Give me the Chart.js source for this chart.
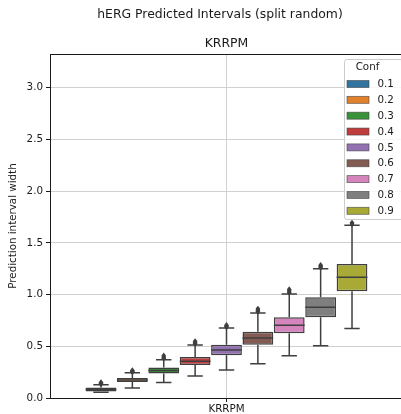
<!DOCTYPE html>
<html>
<head>
<meta charset="utf-8">
<title>hERG Predicted Intervals (split random)</title>
<script src="https://cdn.jsdelivr.net/npm/chart.js@4/dist/chart.umd.min.js"></script>
<style>
html, body { margin: 0; padding: 0; background: #fff; overflow: hidden; }
#wrap { width: 404px; height: 414px; position: relative; }
</style>
</head>
<body>
<div id="wrap"><canvas id="chart"></canvas></div>

<script>
// data
var categories = ['KRRPM'];
var confLevels = ['0.1', '0.2', '0.3', '0.4', '0.5', '0.6', '0.7', '0.8', '0.9'];
var whiskerLow  = [0.056, 0.096, 0.150, 0.213, 0.271, 0.332, 0.408, 0.506, 0.671];
var q1          = [0.063, 0.155, 0.236, 0.319, 0.413, 0.516, 0.627, 0.780, 1.032];
var median      = [0.082, 0.174, 0.267, 0.355, 0.464, 0.580, 0.704, 0.877, 1.168];
var q3          = [0.102, 0.193, 0.296, 0.397, 0.515, 0.640, 0.782, 0.975, 1.297];
var whiskerHigh = [0.128, 0.243, 0.371, 0.513, 0.676, 0.823, 1.007, 1.251, 1.670];
var outliers = [
  [0.136, 0.143, 0.150],
  [0.252, 0.259, 0.266],
  [0.383, 0.394, 0.408],
  [0.524, 0.535, 0.548],
  [0.686, 0.695, 0.704],
  [0.836, 0.848, 0.862],
  [1.020, 1.034, 1.050],
  [1.262, 1.274, 1.285],
  [1.682, 1.694]
];
var yTicks = [0, 0.5, 1.0, 1.5, 2.0, 2.5, 3.0];

var boxColors = ['#3274a1', '#e1812c', '#3a923a', '#c03d3e', '#9372b2',
                 '#845b53', '#d684bd', '#7f7f7f', '#a9aa35'];
var lineColor = '#3f3f3f';
var axisColor = '#1a1a1a';
var textColor = '#1a1a1a';
var gridColor = '#d0d0d0';
var fontFamily = '"DejaVu Sans", sans-serif';

// whiskers, medians and fliers on top of the floating bars
var boxExtras = {
  id: 'boxExtras',
  afterDatasetsDraw: function(chart) {
    var ctx = chart.ctx, ys = chart.scales.y;
    ctx.save();
    ctx.strokeStyle = lineColor;
    ctx.fillStyle = lineColor;
    ctx.lineWidth = 1.5;
    confLevels.forEach(function(c, i) {
      var bar = chart.getDatasetMeta(i).data[0];
      var x = bar.x, half = bar.width / 2, cap = half / 2;
      var yLo = ys.getPixelForValue(whiskerLow[i]);
      var yQ1 = ys.getPixelForValue(q1[i]);
      var yMed = ys.getPixelForValue(median[i]);
      var yQ3 = ys.getPixelForValue(q3[i]);
      var yHi = ys.getPixelForValue(whiskerHigh[i]);
      ctx.beginPath();
      ctx.moveTo(x - half, yMed); ctx.lineTo(x + half, yMed);
      ctx.moveTo(x, yQ3); ctx.lineTo(x, yHi);
      ctx.moveTo(x - cap, yHi); ctx.lineTo(x + cap, yHi);
      ctx.moveTo(x, yQ1); ctx.lineTo(x, yLo);
      ctx.moveTo(x - cap, yLo); ctx.lineTo(x + cap, yLo);
      ctx.stroke();
      outliers[i].forEach(function(v) {
        var py = ys.getPixelForValue(v);
        ctx.beginPath();
        ctx.moveTo(x, py - 3.2);
        ctx.lineTo(x + 2.4, py);
        ctx.lineTo(x, py + 3.2);
        ctx.lineTo(x - 2.4, py);
        ctx.closePath();
        ctx.fill();
      });
    });
    ctx.restore();
  }
};

// titles, top spine and the "Conf" legend
var decorations = {
  id: 'decorations',
  afterDraw: function(chart) {
    var ctx = chart.ctx, a = chart.chartArea;
    ctx.save();
    ctx.strokeStyle = axisColor;
    ctx.lineWidth = 1;
    ctx.beginPath();
    ctx.moveTo(a.left, a.top + 0.5);
    ctx.lineTo(a.right, a.top + 0.5);
    ctx.stroke();

    ctx.fillStyle = textColor;
    ctx.textAlign = 'center';
    ctx.textBaseline = 'middle';
    ctx.font = '12.4px ' + fontFamily;
    ctx.fillText('hERG Predicted Intervals (split random)', 220, 15);
    ctx.fillText(categories[0], (a.left + a.right) / 2, 43.5);

    // legend frame
    var lx = 344, ly = 59, lw = 58, lh = 160;
    ctx.fillStyle = 'rgba(255,255,255,0.8)';
    ctx.strokeStyle = '#cccccc';
    ctx.beginPath();
    ctx.roundRect(lx + 0.5, ly + 0.5, lw, lh, 2.5);
    ctx.fill();
    ctx.stroke();

    ctx.font = '10.3px ' + fontFamily;
    ctx.fillStyle = textColor;
    ctx.fillText('Conf', 367.5, 67);
    ctx.textAlign = 'left';
    confLevels.forEach(function(c, i) {
      var ry = 84 + i * 15.85;
      ctx.fillStyle = boxColors[i];
      ctx.fillRect(347, ry - 3.5, 22, 7);
      ctx.strokeStyle = 'rgba(63,63,63,0.7)';
      ctx.lineWidth = 0.8;
      ctx.strokeRect(347, ry - 3.5, 22, 7);
      ctx.fillStyle = textColor;
      ctx.fillText(c, 377.5, ry + 0.5);
    });
    ctx.restore();
  }
};

var datasets = confLevels.map(function(c, i) {
  return {
    label: c,
    data: [[q1[i], q3[i]]],
    backgroundColor: boxColors[i],
    borderColor: lineColor,
    borderWidth: 1.5,
    borderSkipped: false,
    categoryPercentage: 0.8,
    barPercentage: 0.98
  };
});

new Chart(document.getElementById('chart'), {
  type: 'bar',
  data: { labels: categories, datasets: datasets },
  options: {
    responsive: true,
    maintainAspectRatio: false,
    animation: false,
    layout: { padding: { top: 54, right: 1, left: 0, bottom: 0 } },
    plugins: {
      legend: { display: false },
      title: { display: false },
      tooltip: { enabled: false }
    },
    scales: {
      x: {
        grid: { color: gridColor, offset: false, tickLength: 4, tickColor: axisColor, lineWidth: 1 },
        border: { color: axisColor, width: 1 },
        ticks: { color: textColor, font: { family: fontFamily, size: 10.3 }, padding: 1 },
        afterFit: function(s) { s.height = 16; }
      },
      y: {
        min: 0,
        max: 3.327,
        afterBuildTicks: function(s) {
          s.ticks = yTicks.map(function(v) { return { value: v }; });
        },
        grid: { color: gridColor, tickLength: 4, tickColor: axisColor, lineWidth: 1 },
        border: { color: axisColor, width: 1 },
        ticks: {
          color: textColor,
          font: { family: fontFamily, size: 10.3 },
          padding: 3,
          callback: function(v) { return Number(v).toFixed(1); }
        },
        title: {
          display: true,
          text: 'Prediction interval width',
          color: textColor,
          font: { family: fontFamily, size: 10.3 },
          padding: { top: 7, bottom: 0 }
        },
        afterFit: function(s) { s.width = 50; }
      }
    }
  },
  plugins: [boxExtras, decorations]
});
</script>
</body>
</html>
